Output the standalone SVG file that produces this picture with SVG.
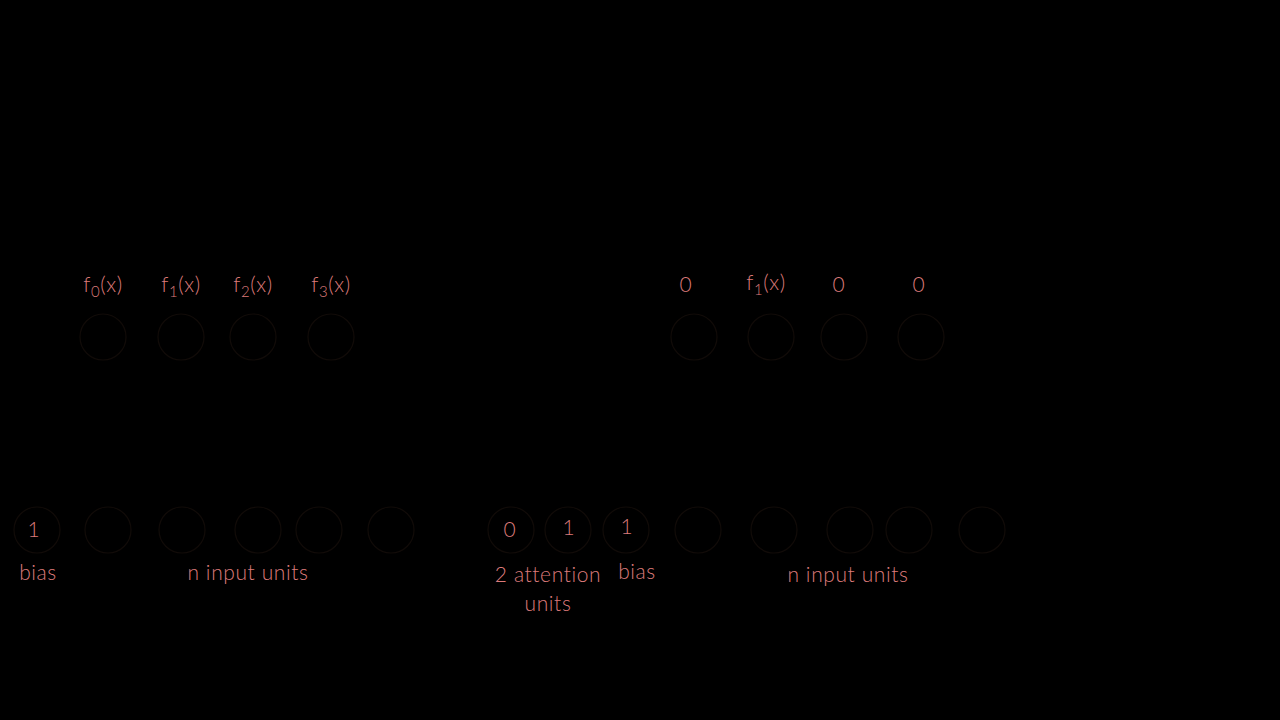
<svg xmlns="http://www.w3.org/2000/svg" width="1280" height="720" viewBox="0 0 1280 720">
<style>
.bg{fill:#000}
.n{fill:none;stroke:#110b08;stroke-width:1.2}
.t{font-family:Lato,"Open Sans","Liberation Sans",sans-serif;font-size:21px;font-weight:300;letter-spacing:0.6px;fill:#dc7a7a;text-anchor:middle}
.s{font-size:15px}
</style>
<rect class="bg" x="0" y="0" width="1280" height="720"/>
<g id="connectors"></g>
<g id="out-left">
<g id="f0"><circle class="n" cx="103" cy="337" r="23"/><text class="t" x="103" y="292">f<tspan class="s" dy="5">0</tspan><tspan dy="-5">(x)</tspan></text></g>
<g id="f1"><circle class="n" cx="181" cy="337" r="23"/><text class="t" x="181" y="292">f<tspan class="s" dy="5">1</tspan><tspan dy="-5">(x)</tspan></text></g>
<g id="f2"><circle class="n" cx="253" cy="337" r="23"/><text class="t" x="253" y="292">f<tspan class="s" dy="5">2</tspan><tspan dy="-5">(x)</tspan></text></g>
<g id="f3"><circle class="n" cx="331" cy="337" r="23"/><text class="t" x="331" y="292">f<tspan class="s" dy="5">3</tspan><tspan dy="-5">(x)</tspan></text></g>
</g>
<g id="out-right">
<g id="r0"><circle class="n" cx="694" cy="337" r="23"/><text class="t" x="686" y="292">0</text></g>
<g id="r1"><circle class="n" cx="771" cy="337" r="23"/><text class="t" x="766" y="290">f<tspan class="s" dy="5">1</tspan><tspan dy="-5">(x)</tspan></text></g>
<g id="r2"><circle class="n" cx="844" cy="337" r="23"/><text class="t" x="839" y="292">0</text></g>
<g id="r3"><circle class="n" cx="921" cy="337" r="23"/><text class="t" x="919" y="292">0</text></g>
</g>
<g id="in-left">
<g id="bias-l"><circle class="n" cx="37" cy="530" r="23"/><text class="t" x="34" y="537">1</text><text class="t" x="38" y="580">bias</text></g>
<g id="il1"><circle class="n" cx="108" cy="530" r="23"/></g>
<g id="il2"><circle class="n" cx="182" cy="530" r="23"/></g>
<g id="il3"><circle class="n" cx="258" cy="530" r="23"/></g>
<g id="il4"><circle class="n" cx="319" cy="530" r="23"/></g>
<g id="il5"><circle class="n" cx="391" cy="530" r="23"/></g>
<text class="t" x="248" y="580">n input units</text>
</g>
<g id="in-right">
<g id="att0"><circle class="n" cx="511" cy="530" r="23"/><text class="t" x="510" y="537">0</text></g>
<g id="att1"><circle class="n" cx="568" cy="530" r="23"/><text class="t" x="569" y="535">1</text></g>
<text class="t" x="548" y="582">2 attention</text>
<text class="t" x="548" y="611">units</text>
<g id="bias-r"><circle class="n" cx="626" cy="530" r="23"/><text class="t" x="627" y="534">1</text><text class="t" x="637" y="579">bias</text></g>
<g id="ir1"><circle class="n" cx="698" cy="530" r="23"/></g>
<g id="ir2"><circle class="n" cx="774" cy="530" r="23"/></g>
<g id="ir3"><circle class="n" cx="850" cy="530" r="23"/></g>
<g id="ir4"><circle class="n" cx="909" cy="530" r="23"/></g>
<g id="ir5"><circle class="n" cx="982" cy="530" r="23"/></g>
<text class="t" x="848" y="582">n input units</text>
</g>
</svg>
